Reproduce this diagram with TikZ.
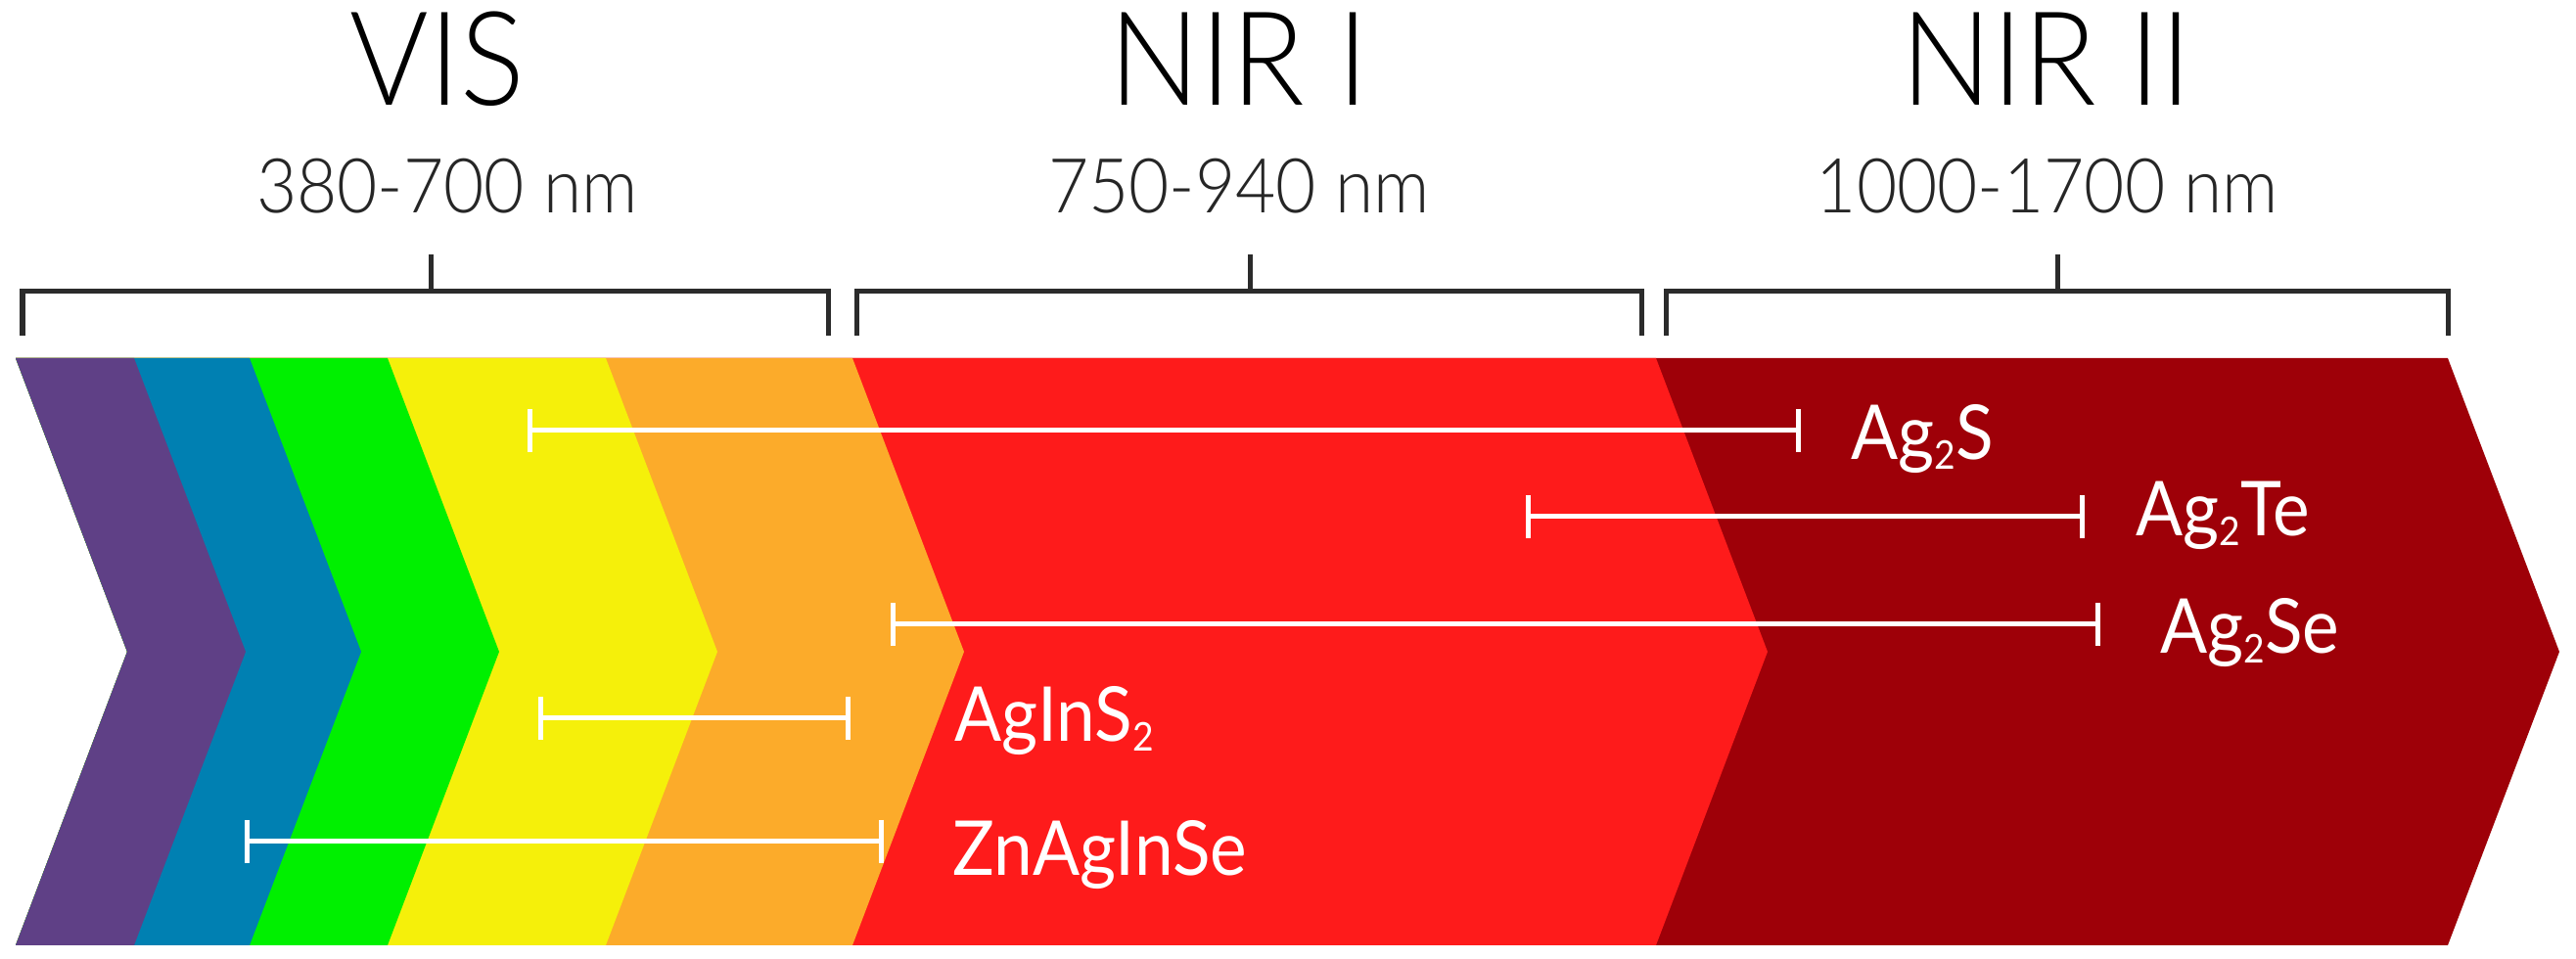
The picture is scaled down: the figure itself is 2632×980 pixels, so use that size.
\documentclass[tikz,border=0pt]{standalone}
\usepackage{fontspec}
\setmainfont{Lato}[FakeStretch=0.92]
\newfontfamily\lightfont{Lato Light}[FakeStretch=0.92]
\usetikzlibrary{arrows.meta}
\definecolor{cpurple}{HTML}{5F4086}
\definecolor{cblue}{HTML}{0080B2}
\definecolor{cgreen}{HTML}{00F000}
\definecolor{cyellow}{HTML}{F5F00A}
\definecolor{corange}{HTML}{FCAB2A}
\definecolor{cred}{HTML}{FE1B1B}
\definecolor{cdark}{HTML}{9E0008}
\definecolor{bracketgray}{HTML}{2B2B2B}
\newcommand\subtwo{\raisebox{-0.25ex}{\fontsize{11.5}{12}\selectfont 2}}
\begin{document}
\begin{tikzpicture}[x=0.01cm,y=-0.01cm,
  bracket/.style={draw=bracketgray,line width=0.05cm},
  matbar/.style={draw=white,line width=0.05cm,{Bar[width=0.44cm]}-{Bar[width=0.44cm]}},
  headtext/.style={inner sep=0pt,anchor=base,font=\lightfont\fontsize{38}{40}\selectfont,text=black},
  subtext/.style={inner sep=0pt,anchor=base,font=\lightfont\fontsize{22}{24}\selectfont,text=black!85},
  labeltext/.style={inner sep=0pt,anchor=base west,font=\fontsize{22}{24}\selectfont,text=white}]
\useasboundingbox (0,0) rectangle (2632,980);
% band (drawn right to left)
\def\chev#1#2{\fill[#1] (16,366) -- (#2,366) -- ({#2+114},666) -- (#2,966) -- (16,966) -- (130,666) -- cycle;}
\chev{cdark}{2501}
\chev{cred}{1692}
\chev{corange}{871}
\chev{cyellow}{619}
\chev{cgreen}{396}
\chev{cblue}{255}
\chev{cpurple}{137}
% brackets
\coordinate (v1) at (23,343); \coordinate (v2) at (846,343); \coordinate (vt) at (440,260);
\coordinate (n1) at (875,343); \coordinate (n2) at (1677,343); \coordinate (nt) at (1277,260);
\coordinate (m1) at (1702,343); \coordinate (m2) at (2501,343); \coordinate (mt) at (2102,260);
\draw[bracket] (v1) |- (vt |- 0,298) -| (v2); \draw[bracket] (vt) -- (vt |- 0,298);
\draw[bracket] (n1) |- (nt |- 0,298) -| (n2); \draw[bracket] (nt) -- (nt |- 0,298);
\draw[bracket] (m1) |- (mt |- 0,298) -| (m2); \draw[bracket] (mt) -- (mt |- 0,298);
% headings
\node[headtext] (vis) at (447,108) {VIS};
\node[headtext] (nir1) at (1266,108) {NIR I};
\node[headtext] (nir2) at (2091,108) {NIR II};
\node[subtext] (visnm) at (457,218) {380-700 nm};
\node[subtext] (nir1nm) at (1266,218) {750-940 nm};
\node[subtext] (nir2nm) at (2092,218) {1000-1700 nm};
% material ranges
\coordinate (s1a) at (539,440);  \coordinate (s1b) at (1840,440);
\coordinate (s2a) at (1559,528); \coordinate (s2b) at (2130,528);
\coordinate (s3a) at (910,638);  \coordinate (s3b) at (2146,638);
\coordinate (s4a) at (550,734);  \coordinate (s4b) at (869,734);
\coordinate (s5a) at (250,860);  \coordinate (s5b) at (903,860);
\draw[matbar] (s1a) -- (s1b);
\draw[matbar] (s2a) -- (s2b);
\draw[matbar] (s3a) -- (s3b);
\draw[matbar] (s4a) -- (s4b);
\draw[matbar] (s5a) -- (s5b);
\node[labeltext] (ag2s) at (1891,470) {Ag\subtwo S};
\node[labeltext] (ag2te) at (2182,548) {Ag\subtwo Te};
\node[labeltext] (ag2se) at (2207,668) {Ag\subtwo Se};
\node[labeltext] (agins2) at (975,758) {AgInS\subtwo};
\node[labeltext] (znagin) at (973,895) {ZnAgInSe};
\end{tikzpicture}
\end{document}
